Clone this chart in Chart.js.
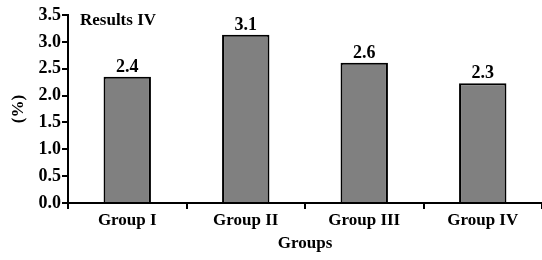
<!DOCTYPE html>
<html>
<head>
<meta charset="utf-8">
<script src="https://cdn.jsdelivr.net/npm/chart.js@4"></script>
<style>
  html, body { margin: 0; padding: 0; background: #fff; }
  #wrap { width: 542px; height: 260px; }
</style>
</head>
<body>
<div id="wrap"><canvas id="chart" width="542" height="260"></canvas></div>
<script>
const groups = ["Group I", "Group II", "Group III", "Group IV"];
const values = [2.35, 3.13, 2.61, 2.23];
const valueLabels = ["2.4", "3.1", "2.6", "2.3"];
const yTicks = [0, 0.5, 1.0, 1.5, 2.0, 2.5, 3.0, 3.5];
const chartTitle = "Results IV";

const serif = "'Liberation Serif', 'Times New Roman', Times, serif";

// bar value labels + inner title
const annotate = {
  id: "annotate",
  afterDatasetsDraw(chart) {
    const ctx = chart.ctx;
    const meta = chart.getDatasetMeta(0);
    ctx.save();
    ctx.fillStyle = "#000";
    ctx.font = "bold 18px " + serif;
    ctx.textAlign = "center";
    ctx.textBaseline = "alphabetic";
    meta.data.forEach((bar, i) => {
      ctx.fillText(valueLabels[i], bar.x, bar.y - 5);
    });
    ctx.font = "bold 17px " + serif;
    ctx.textAlign = "left";
    ctx.textBaseline = "middle";
    ctx.fillText(chartTitle, chart.chartArea.left + 12, chart.chartArea.top + 6);
    ctx.restore();
  },
};

new Chart(document.getElementById("chart"), {
  type: "bar",
  data: {
    labels: groups,
    datasets: [
      {
        data: values,
        backgroundColor: "#808080",
        borderColor: "#000",
        borderWidth: 2,
        categoryPercentage: 1.0,
        barPercentage: 0.4,
      },
    ],
  },
  options: {
    responsive: false,
    animation: false,
    layout: { padding: { top: 15, right: 0, left: 0, bottom: 0 } },
    plugins: { legend: { display: false }, tooltip: { enabled: false } },
    scales: {
      x: {
        offset: true,
        grid: {
          offset: true,
          drawOnChartArea: false,
          color: "#000",
          lineWidth: 2,
          tickLength: 6,
        },
        border: { color: "#000", width: 2 },
        ticks: {
          color: "#000",
          font: { family: serif, size: 17, weight: "bold" },
          padding: 1,
        },
        title: {
          display: true,
          text: "Groups",
          color: "#000",
          font: { family: serif, size: 17, weight: "bold" },
          padding: { top: 4, bottom: 6 },
        },
        afterFit(scale) {
          scale.height = 57;
        },
      },
      y: {
        min: 0,
        max: 3.5,
        afterBuildTicks(scale) {
          scale.ticks = yTicks.map((v) => ({ value: v }));
        },
        grid: {
          drawOnChartArea: false,
          color: "#000",
          lineWidth: 2,
          tickLength: 6,
        },
        border: { color: "#000", width: 2 },
        ticks: {
          color: "#000",
          font: { family: serif, size: 18, weight: "bold" },
          padding: 1,
          callback: (v) => Number(v).toFixed(1),
        },
        title: {
          display: true,
          text: "(%)",
          color: "#000",
          font: { family: serif, size: 17, weight: "bold" },
          padding: { top: 8, bottom: 4 },
        },
        afterFit(scale) {
          scale.width = 68;
        },
      },
    },
  },
  plugins: [annotate],
});
</script>
</body>
</html>
